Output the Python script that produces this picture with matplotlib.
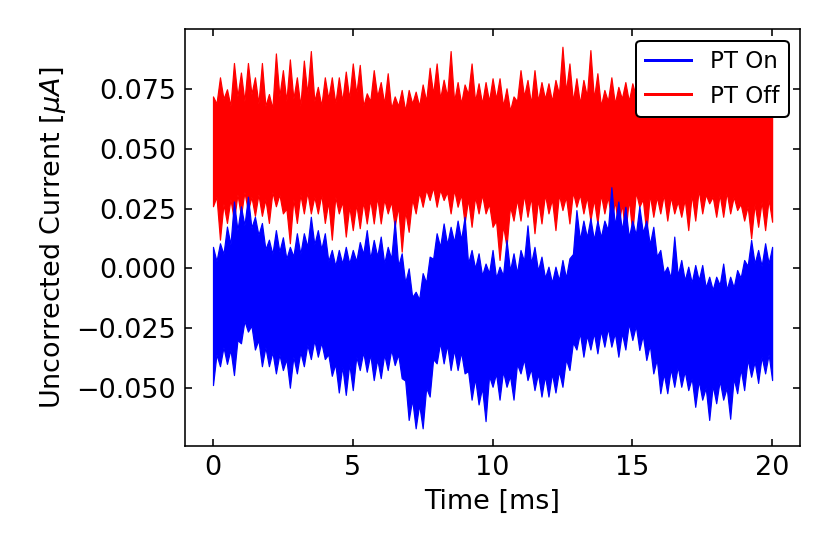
"""Uncorrected current vs time, pulse tube on/off — noise band comparison."""
import matplotlib
matplotlib.use("Agg")
import matplotlib.pyplot as plt
from matplotlib.ticker import FuncFormatter
import numpy as np

# edges of each noisy trace (uA). *_HI / *_LO: spike tips read every 0.25 ms
# from 0 to 20 ms; *_HI_MID / *_LO_MID: the band edge between two spikes
TIME_MS = np.linspace(0.0, 20.0, 81)
TIME_MID_MS = TIME_MS[:-1] + 0.125

ON_HI = [
    .009, .0105, .0175, .028, .026, .030, .0216, .019, .012, .016, .013, .009, .0147, .0147, .0216, .016, .0147, .0077, .0077,
    .009, .0077, .011, .016, .0119, .0133, .009, .020, .0063, .000, -.0098, -.002, .0049, .0147, .0188, .0174, .020, .0216, .0077, .0063, .002,
    .0077, .0007, .0119, .0063, .0077, .018, .009, .0049, .0007, .0007, .0035, .0042, .0244, .020, .021, .020, .020, .034, .028, .0258, .020,
    .026, .020, .0174, .0077, .0007, .0133, .0035, .0007, .0014, .0014, -.0035, -.0035, .002, -.0035, -.0007, .0035, .0119, .0077, .0105, .009,
]
ON_HI_MID = [
    .003, .006, .010, .016, .018, .017, .014, .008, .006, .007, .004, .005, .006, .009, .010, .008, .003, .001, .002,
    .002, .003, .006, .004, .005, .002, .004, .001, -.006, -.012, -.013, -.006, .004, .009, .010, .011, .012, .002, .000, -.003, -.002,
    -.004, -.003, -.001, -.002, .003, .002, -.001, -.004, -.006, -.005, -.004, .006, .012, .013, .012, .013, .016, .018, .016, .013,
    .014, .015, .010, .005, -.002, -.004, -.003, -.005, -.006, -.005, -.008, -.009, -.007, -.009, -.008, -.004, .001, .002, .001, .002,
]
ON_LO = [
    -.0489, -.041, -.040, -.0447, -.0314, -.0265, -.034, -.041, -.041, -.044, -.0426, -.050, -.044, -.041, -.038, -.037, -.038, -.045, -.052,
    -.053, -.051, -.0426, -.0433, -.0468, -.046, -.0426, -.0405, -.046, -.0635, -.067, -.067, -.0537, -.0398, -.0398, -.0426, -.0426, -.044, -.055, -.057, -.064,
    -.0496, -.055, -.0496, -.055, -.044, -.0468, -.051, -.0537, -.0537, -.052, -.0496, -.0426, -.034, -.037, -.034, -.0356, -.0328, -.0328, -.037, -.034, -.030,
    -.0342, -.0384, -.044, -.0523, -.0523, -.0496, -.0496, -.051, -.058, -.055, -.0635, -.0565, -.055, -.063, -.0523, -.051, -.0454, -.048, -.044, -.0468,
]
ON_LO_MID = [
    -.036, -.033, -.034, -.030, -.022, -.024, -.030, -.033, -.035, -.036, -.038, -.037, -.035, -.032, -.030, -.031, -.036, -.040, -.041,
    -.040, -.037, -.035, -.036, -.038, -.036, -.034, -.036, -.047, -.055, -.057, -.050, -.038, -.031, -.032, -.034, -.035, -.043, -.046, -.050, -.045,
    -.044, -.043, -.045, -.040, -.038, -.042, -.044, -.045, -.044, -.043, -.038, -.031, -.027, -.028, -.027, -.026, -.025, -.027, -.027, -.023,
    -.024, -.028, -.032, -.038, -.044, -.042, -.041, -.043, -.046, -.047, -.050, -.049, -.047, -.050, -.046, -.042, -.038, -.039, -.037, -.036,
]
OFF_HI = [
    .072, .080, .075, .086, .082, .086, .080, .086, .073, .090, .083, .0875, .080, .087, .091, .076, .080, .080, .080,
    .0824, .0858, .0852, .0733, .083, .078, .0817, .072, .0747, .0747, .074, .077, .084, .0858, .079, .091, .078, .077, .0858, .0775, .078,
    .0796, .0796, .0754, .072, .083, .0789, .083, .078, .0775, .0789, .0928, .0858, .0796, .0789, .0914, .0817, .0747, .080, .076, .078, .0775,
    .083, .079, .086, .080, .084, .078, .082, .087, .080, .083, .079, .085, .081, .078, .084, .080, .082, .086, .079, .083,
]
OFF_HI_MID = [
    .069, .071, .068, .072, .070, .073, .069, .068, .067, .072, .070, .071, .068, .073, .070, .068, .071, .069, .070,
    .071, .073, .068, .070, .072, .069, .067, .068, .066, .069, .068, .070, .073, .071, .072, .070, .069, .073, .070, .069, .070,
    .071, .068, .066, .070, .072, .069, .070, .071, .070, .073, .074, .070, .069, .072, .071, .068, .070, .069, .071, .070,
    .072, .070, .071, .069, .072, .070, .071, .073, .070, .071, .069, .072, .070, .071, .072, .070, .071, .072, .070, .071,
]
OFF_LO = [
    .026, .012, .019, .020, .022, .024, .022, .022, .019, .026, .023, .0105, .019, .023, .023, .023, .019, .012, .023,
    .0133, .016, .0168, .0188, .0188, .0188, .023, .0174, .007, .0153, .023, .0258, .0286, .0258, .0286, .023, .0258, .0188, .0174, .023, .023,
    .0174, .0035, .009, .020, .020, .0216, .0147, .0188, .023, .016, .0244, .0188, .0258, .023, .020, .0188, .023, .020, .0174, .0147, .0147,
    .0258, .0147, .0216, .023, .020, .023, .0216, .016, .020, .023, .0272, .0216, .0216, .023, .0244, .020, .0126, .0174, .016, .0195,
]
OFF_LO_MID = [
    .030, .027, .029, .031, .032, .030, .031, .029, .032, .031, .025, .029, .031, .032, .030, .031, .028, .030, .028,
    .026, .027, .028, .029, .030, .029, .028, .026, .024, .029, .032, .033, .034, .033, .032, .033, .031, .029, .030, .031, .027,
    .020, .018, .026, .029, .031, .030, .029, .031, .029, .031, .030, .032, .031, .030, .029, .031, .030, .028, .027, .029,
    .032, .029, .031, .030, .031, .030, .028, .029, .031, .033, .031, .030, .031, .032, .030, .027, .026, .027, .028, .029,
]


def _edge(tips, mids):
    """Merge spike tips and in-between edge values into one time-ordered edge."""
    t = np.empty(len(TIME_MS) + len(TIME_MID_MS))
    y = np.empty_like(t)
    t[0::2], t[1::2] = TIME_MS, TIME_MID_MS
    y[0::2], y[1::2] = tips, mids
    return t, y


fig = plt.figure(figsize=(829 / 144, 553 / 144), dpi=144)
ax = fig.add_axes([0.2232, 0.1935, 0.7419, 0.7535])

# red first so the blue trace sits on top where they overlap
traces = (
    (OFF_HI, OFF_HI_MID, OFF_LO, OFF_LO_MID, "red", 2),
    (ON_HI, ON_HI_MID, ON_LO, ON_LO_MID, "blue", 3),
)
for hi, hi_mid, lo, lo_mid, color, z in traces:
    t, top = _edge(hi, hi_mid)
    _, bot = _edge(lo, lo_mid)
    ax.fill_between(t, bot, top, facecolor=color, edgecolor=color, lw=0.6, zorder=z)

h_on, = ax.plot([], [], color="blue", lw=1.5, label="PT On")
h_off, = ax.plot([], [], color="red", lw=1.5, label="PT Off")

ax.set_xlim(-1, 21)
ax.set_ylim(-0.0744, 0.1001)
ax.set_xticks([0, 5, 10, 15, 20])
ax.set_yticks([-0.05, -0.025, 0.0, 0.025, 0.05, 0.075])
ax.yaxis.set_major_formatter(FuncFormatter(lambda v, _: f"{v:.3f}".replace("-", "\u2212")))
ax.tick_params(direction="in", top=True, right=True, labelsize=13.5, length=3.5, pad=4.5)

ax.set_xlabel("Time [ms]", fontsize=13.5)
ax.set_ylabel(r"Uncorrected Current [$\mu A$]", fontsize=13.5)

leg = ax.legend(handles=[h_on, h_off], loc="upper right", fontsize=11.5,
                framealpha=1, edgecolor="black", fancybox=True)
leg.set_zorder(10)

fig.savefig("out.png", dpi=144)
